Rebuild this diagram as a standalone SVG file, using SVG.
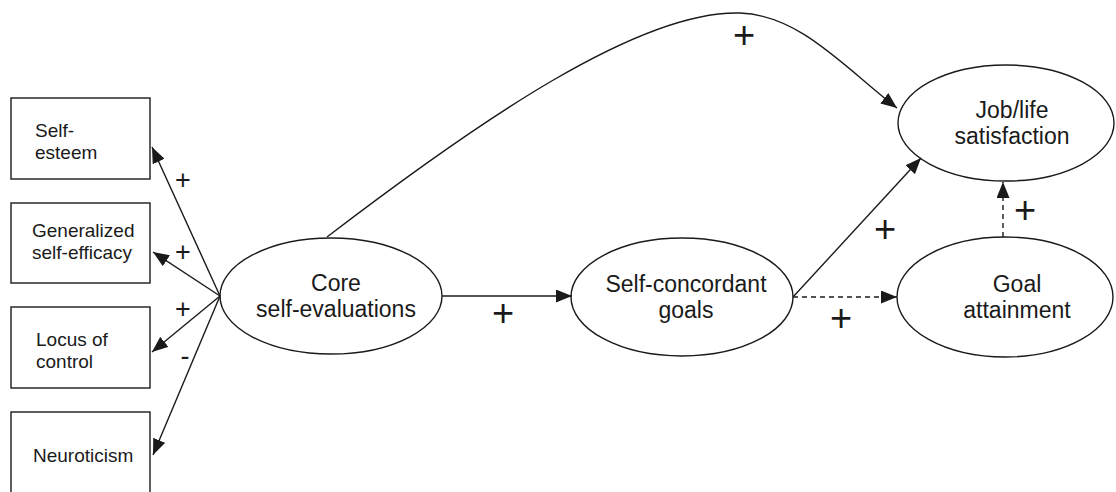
<svg xmlns="http://www.w3.org/2000/svg" width="1116" height="492" viewBox="0 0 1116 492">
  <style>
    .box { fill: #fff; stroke: #1a1a1a; stroke-width: 1.4; }
    .oval { fill: #fff; stroke: #1a1a1a; stroke-width: 1.4; }
    .lbl { font-family: "Liberation Sans", Arial, sans-serif; font-size: 19px; fill: #1a1a1a; }
    .big { font-family: "Liberation Sans", Arial, sans-serif; font-size: 23px; fill: #1a1a1a; text-anchor: middle; }
    .edge { fill: none; stroke: #1a1a1a; stroke-width: 1.4; marker-end: url(#head); }
    .dash { stroke-dasharray: 5 4; }
    .sign { font-family: "Liberation Sans", Arial, sans-serif; fill: #1a1a1a; text-anchor: middle; }
    .s-sm { font-size: 27px; }
    .s-lg { font-size: 38px; }
  </style>
  <defs>
    <marker id="head" markerUnits="userSpaceOnUse" viewBox="0 0 16 13" refX="16" refY="6.5" markerWidth="16" markerHeight="13" orient="auto">
      <path d="M0,0 L16,6.5 L0,13 z" fill="#1a1a1a"/>
    </marker>
  </defs>

  <rect width="1116" height="492" fill="#fff"/>

  <!-- indicator boxes -->
  <g id="self-esteem">
    <rect class="box" x="11" y="98" width="139" height="81"/>
    <text class="lbl" x="35" y="137">Self-</text>
    <text class="lbl" x="35" y="159">esteem</text>
  </g>
  <g id="self-efficacy">
    <rect class="box" x="11" y="203" width="139" height="80"/>
    <text class="lbl" x="32" y="237">Generalized</text>
    <text class="lbl" x="32" y="259">self-efficacy</text>
  </g>
  <g id="locus-of-control">
    <rect class="box" x="11" y="307" width="139" height="81"/>
    <text class="lbl" x="36" y="346">Locus of</text>
    <text class="lbl" x="36" y="368">control</text>
  </g>
  <g id="neuroticism">
    <rect class="box" x="11" y="412" width="139" height="100"/>
    <text class="lbl" x="33" y="462">Neuroticism</text>
  </g>

  <!-- latent constructs -->
  <g id="core-self-evaluations">
    <ellipse class="oval" cx="331" cy="296" rx="111" ry="58"/>
    <text class="big" x="336" y="291">Core</text>
    <text class="big" x="336" y="317">self-evaluations</text>
  </g>
  <g id="self-concordant-goals">
    <ellipse class="oval" cx="682" cy="297" rx="111" ry="59"/>
    <text class="big" x="686" y="292">Self-concordant</text>
    <text class="big" x="686" y="318">goals</text>
  </g>
  <g id="goal-attainment">
    <ellipse class="oval" cx="1005" cy="297" rx="108" ry="60"/>
    <text class="big" x="1017" y="292">Goal</text>
    <text class="big" x="1017" y="318">attainment</text>
  </g>
  <g id="job-life-satisfaction">
    <ellipse class="oval" cx="1006" cy="123" rx="108" ry="58"/>
    <text class="big" x="1012" y="118">Job/life</text>
    <text class="big" x="1012" y="144">satisfaction</text>
  </g>

  <!-- paths -->
  <g id="connectors">
    <line class="edge" x1="220" y1="296" x2="152" y2="147"/>
    <line class="edge" x1="220" y1="296" x2="153" y2="252"/>
    <line class="edge" x1="220" y1="296" x2="152" y2="352"/>
    <line class="edge" x1="220" y1="296" x2="153" y2="455"/>
    <line class="edge" x1="442" y1="296" x2="572" y2="296"/>
    <line class="edge dash" x1="793" y1="297" x2="897" y2="297"/>
    <line class="edge" x1="793" y1="297" x2="921" y2="158"/>
    <line class="edge dash" x1="1003" y1="237" x2="1003" y2="182"/>
    <path class="edge" d="M327,237 C480,120 640,10 740,13 C800,15 845,68 897,108"/>
  </g>

  <!-- path signs -->
  <g id="signs">
    <text class="sign s-sm" x="183" y="189">+</text>
    <text class="sign s-sm" x="183" y="261">+</text>
    <text class="sign s-sm" x="183" y="318">+</text>
    <text class="sign s-sm" x="185" y="365">-</text>
    <text class="sign s-lg" x="503" y="326">+</text>
    <text class="sign s-lg" x="841" y="331">+</text>
    <text class="sign s-lg" x="885" y="242">+</text>
    <text class="sign s-lg" x="1025" y="223">+</text>
    <text class="sign s-lg" x="744" y="48">+</text>
  </g>
</svg>
